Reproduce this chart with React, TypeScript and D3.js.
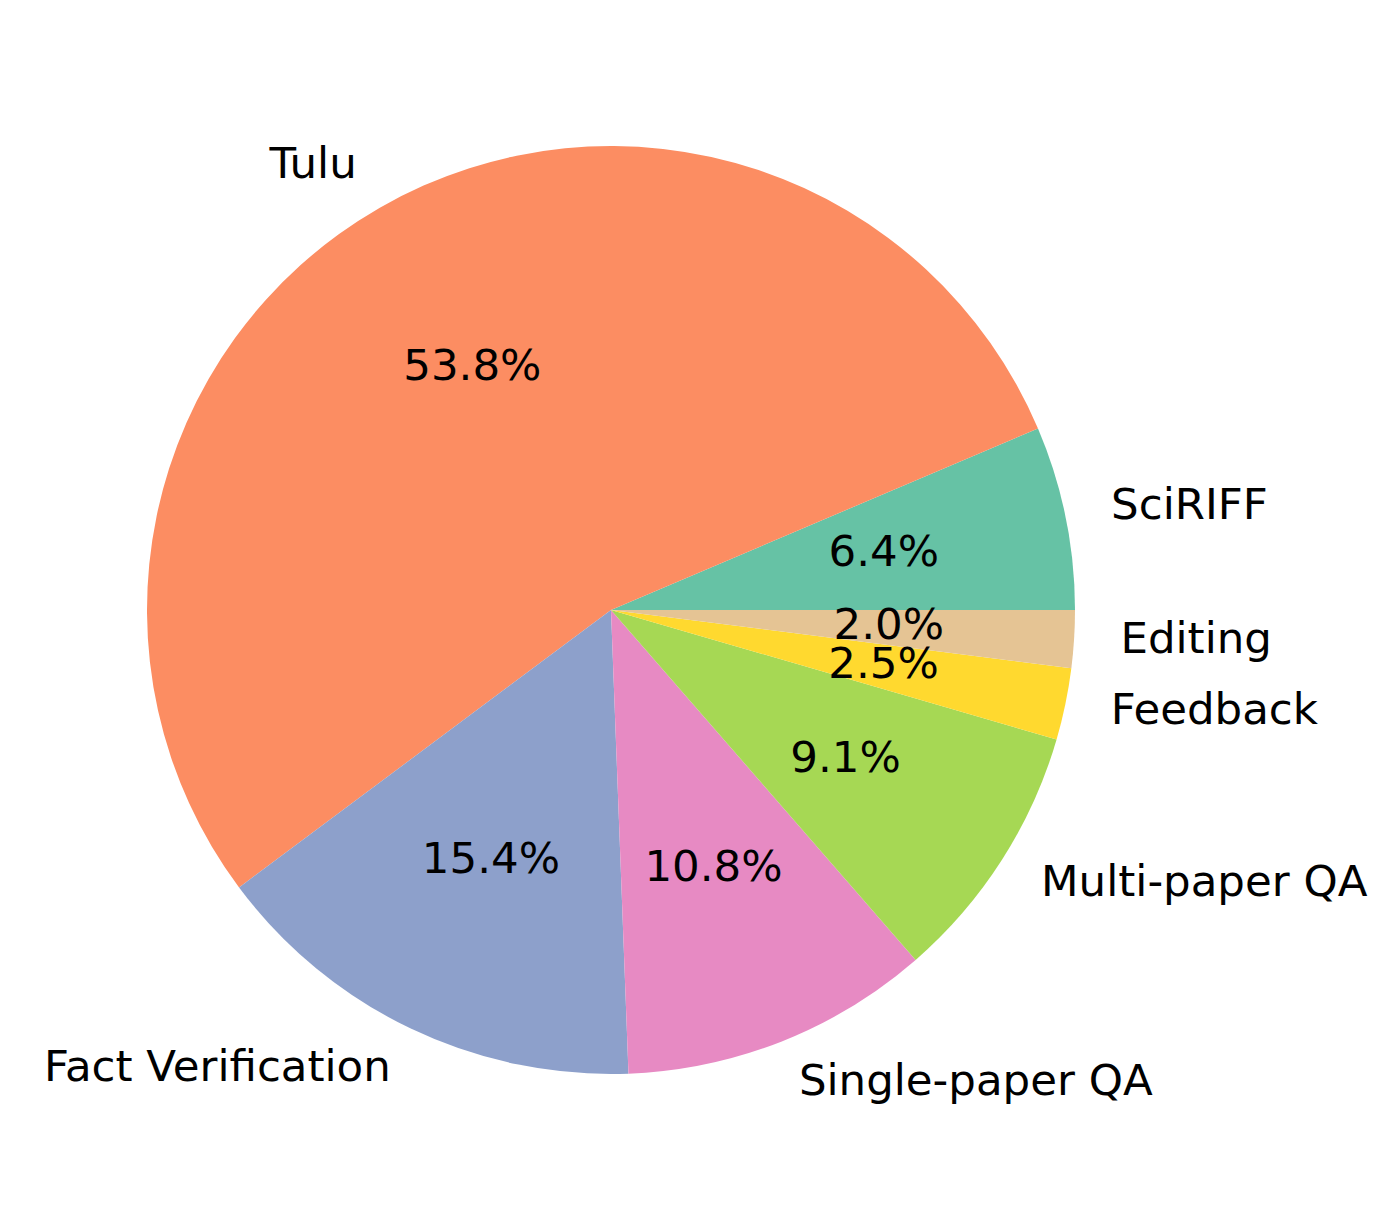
import React, { useEffect } from 'react';
import * as d3 from 'd3';

const categories = ['SciRIFF', 'Tulu', 'Fact Verification', 'Single-paper QA', 'Multi-paper QA', 'Feedback', 'Editing'];
const shares = [6.4, 53.8, 15.4, 10.8, 9.1, 2.5, 2.0];
const colors = ['#66c2a5', '#fc8d62', '#8da0cb', '#e78ac3', '#a6d854', '#ffd92f', '#e5c494'];

const W = 1400;
const H = 1223;
const cx = 611;
const cy = 610;
const R = 464;
const FONT = 'DejaVu Sans, sans-serif';

const App: React.FC = () => {
  useEffect(() => {
    document.body.style.margin = '0';
  }, []);

  // matplotlib: start at 3 o'clock, counterclockwise
  const pie = d3.pie<number>().sort(null).startAngle(Math.PI / 2).endAngle(Math.PI / 2 - 2 * Math.PI);
  const arcs = pie(shares);
  const arc = d3.arc<d3.PieArcDatum<number>>().innerRadius(0).outerRadius(R);

  // d3 angle (clockwise from 12 o'clock) -> screen point
  const pt = (a: number, r: number) => [Math.sin(a) * r, -Math.cos(a) * r];

  return (
    <svg width={W} height={H} style={{ display: 'block', background: '#fff' }}>
      <g transform={`translate(${cx},${cy})`}>
        {arcs.map((d, i) => (
          <path key={categories[i]} d={arc(d)!} fill={colors[i]} />
        ))}
        {arcs.map((d, i) => {
          const mid = (d.startAngle + d.endAngle) / 2;
          const [lx, ly] = pt(mid, R * 1.1);
          const [px, py] = pt(mid, R * 0.6);
          return (
            <g key={'t' + i} fontFamily={FONT} fontSize={43.5} fill="#000">
              <text x={lx} y={ly} dy="0.25em" textAnchor={lx > 0 ? 'start' : 'end'}>
                {categories[i]}
              </text>
              <text x={px} y={py} dy="0.27em" textAnchor="middle">
                {d.data.toFixed(1)}%
              </text>
            </g>
          );
        })}
      </g>
    </svg>
  );
};

export default App;
